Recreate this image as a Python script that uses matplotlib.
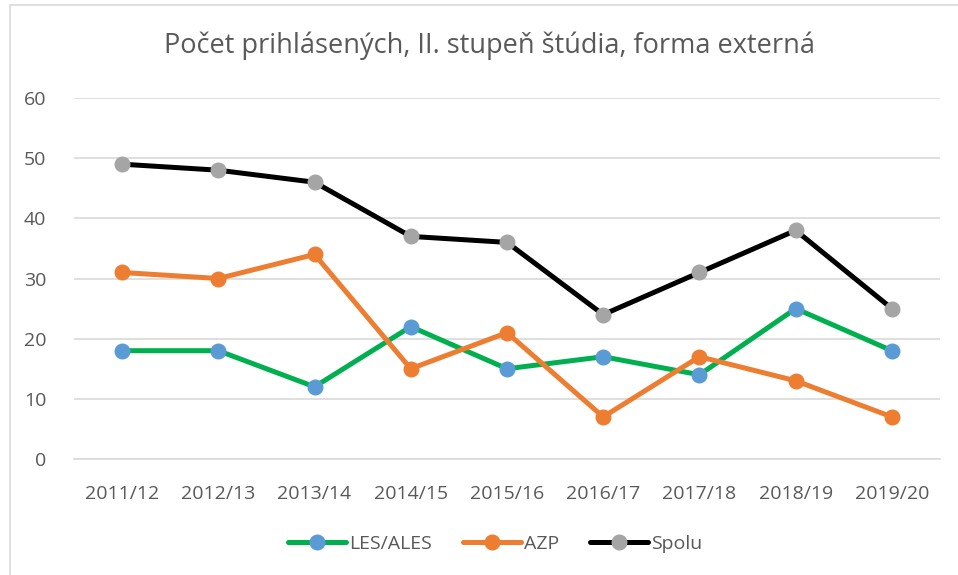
import matplotlib
matplotlib.use("Agg")
import matplotlib.pyplot as plt
from matplotlib.patches import Rectangle

years = ["2011/12", "2012/13", "2013/14", "2014/15", "2015/16", "2016/17", "2017/18", "2018/19", "2019/20"]
les_ales = [18, 18, 12, 22, 15, 17, 14, 25, 18]
azp = [31, 30, 34, 15, 21, 7, 17, 13, 7]
spolu = [49, 48, 46, 37, 36, 24, 31, 38, 25]
yticks = [0, 10, 20, 30, 40, 50, 60]

plt.rcParams['font.family'] = ['Open Sans', 'DejaVu Sans']
fig = plt.figure(figsize=(9.58, 5.75), dpi=100)
fig.patches.append(Rectangle((10/958, -0.01), 1.0, 1 - 5/575 + 0.01, transform=fig.transFigure,
                             fill=False, edgecolor='#d9d9d9', linewidth=1.2))
ax = fig.add_axes([74/958, (575-459)/575, (940-74)/958, (459-98)/575])
x = list(range(len(years)))
series = [("LES/ALES", les_ales, '#00b050', '#5b9bd5'),
          ("AZP", azp, '#ed7d31', '#ed7d31'),
          ("Spolu", spolu, '#000000', '#a5a5a5')]
for name, vals, lc, mc in series:
    ax.plot(x, vals, color=lc, linewidth=3.6, marker='o', markersize=10.5,
            markerfacecolor=mc, markeredgecolor=mc, label=name, solid_capstyle='round')
ax.set_xlim(-0.5, len(years) - 0.5)
ax.set_ylim(0, 60)
ax.set_yticks(yticks)
ax.set_xticks(x)
ax.set_xticklabels(years)
ax.grid(axis='y', color='#d9d9d9', linewidth=1.2)
ax.set_axisbelow(True)
for s in ax.spines.values():
    s.set_visible(False)
ax.spines['bottom'].set_visible(True)
ax.spines['bottom'].set_color('#d9d9d9')
ax.spines['bottom'].set_linewidth(1.2)
ax.tick_params(length=0, labelsize=14, labelcolor='#595959')
ax.tick_params(axis='x', pad=19)
ax.tick_params(axis='y', pad=20)
fig.text(490/958, 1 - 46/575, "Počet prihlásených, II. stupeň štúdia, forma externá",
         ha='center', va='center', fontsize=19.5, color='#595959')
leg = fig.legend(loc='center', bbox_to_anchor=(495/958, 1 - 544/575), ncol=3, frameon=False,
                 fontsize=14, handlelength=3.0, columnspacing=1.6, handletextpad=0.15)
for t in leg.get_texts():
    t.set_color('#595959')
fig.savefig("out.png", dpi=100)
